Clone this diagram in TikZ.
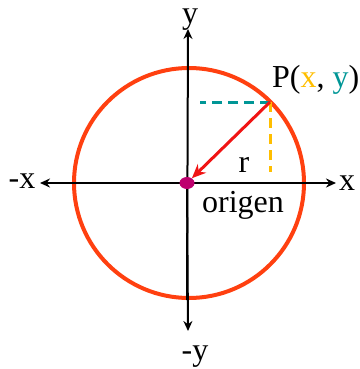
\documentclass[tikz,border=0pt]{standalone}
\usepackage{fontspec}
\setmainfont{Liberation Serif}
\usepackage{tikz}
\usetikzlibrary{arrows.meta,positioning,calc,shapes.geometric}
\definecolor{circlered}{RGB}{255,64,16}
\definecolor{arrowred}{RGB}{240,20,20}
\definecolor{tealdash}{RGB}{0,150,150}
\definecolor{golddash}{RGB}{255,190,0}
\definecolor{dotmagenta}{RGB}{190,0,110}

\begin{document}
\begin{tikzpicture}[
    x=1pt, y=-1pt,
    axis/.style={line width=2pt, -{Stealth[length=10pt,width=9pt]}},
    lbl/.style={font=\fontsize{32}{36}\selectfont, inner sep=0pt, anchor=base},
    radius line/.style={draw=arrowred, line width=3pt, -{Stealth[length=14pt,width=12pt]}},
    proj/.style={line width=3pt, dash pattern=on 10pt off 6pt}
]
    \useasboundingbox (0,0) rectangle (359,369);

    % Circle
    \draw[circlered, line width=4pt] (189,183) circle[radius=115];

    % Axes
    \coordinate (O) at (187,183);
    \coordinate (xr) at (336,183);
    \coordinate (xl) at (40,183);
    \coordinate (yt) at (188,29);
    \coordinate (yb) at (188,331);
    \draw[axis] (O) -- (xr);
    \draw[axis] (O) -- (xl);
    \draw[axis] (O |- 0,300) -- (yt);
    \draw[axis] (O |- 0,180) -- (yb);
    \node[lbl] (xlab) at ($(xr)+(11,7)$) {x};
    \node[lbl] (mxlab) at ($(xl)+(-18,5)$) {-x};
    \node[lbl, text height=0.5em] (ylab) at ($(yt)+(2,-5)$) {y};
    \node[lbl] (mylab) at ($(yb)+(7,29)$) {-y};

    % Point P and projections
    \coordinate (P) at (270,102);
    \coordinate (Px) at (200,102);
    \coordinate (Py) at (270,172);
    \draw[proj, tealdash] (P) -- (Px);
    \draw[proj, golddash] (P) -- (Py);
    \node[lbl, anchor=base west] (Plab) at ($(P)+(2,-15)$) {P(\textcolor{golddash}{x}, \textcolor{tealdash}{y})};

    % Origin dot and radius
    \node[fill=dotmagenta, ellipse, minimum width=15pt, minimum height=12pt, inner sep=0pt] (dot) at (O) {};
    \draw[radius line] (P) -- (dot);
    \node[lbl] (rlab) at (244,172) {r};
    \node[lbl] (orig) at (243,212) {origen};
\end{tikzpicture}
\end{document}
